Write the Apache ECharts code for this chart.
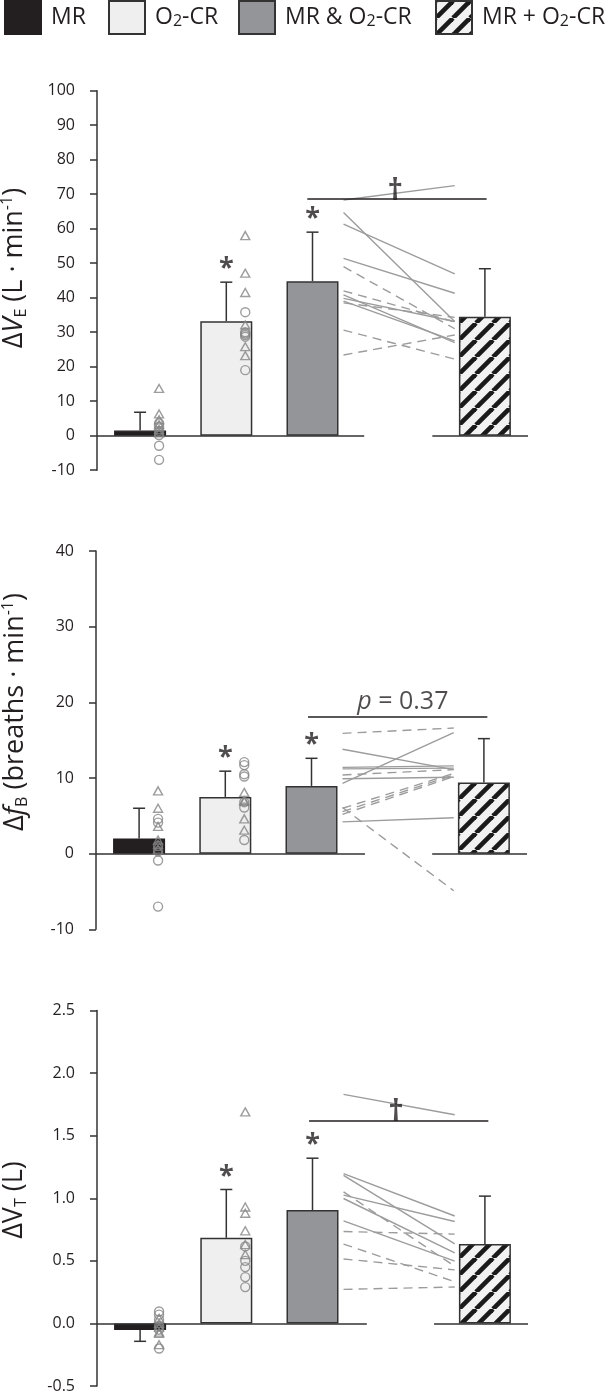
<!DOCTYPE html>
<html><head><meta charset="utf-8">
<script src="https://cdn.jsdelivr.net/npm/echarts@6/dist/echarts.min.js"></script>
<style>html,body{margin:0;padding:0;background:#fff}#c{width:609px;height:1394px}</style>
</head><body><div id="c"></div>
<script>
// ---------- data ----------
const conditions = ['MR', 'O2-CR', 'MR & O2-CR', 'MR + O2-CR'];

// Panel 1: ΔV̇E (L·min-1)
const veMean = [1.5, 33.2, 44.8, 34.5];
const veSd = [5.3, 11.3, 14.2, 13.9];
const veMrTri = [13.7, 6.3, 4.6, 3.2, 1.8, 0.8];
const veMrCirc = [3.6, 2.6, 1.4, 0.2, -2.9, -7.0];
const veO2Tri = [58.0, 47.1, 41.5, 32.1, 25.8, 23.2];
const veO2Circ = [35.8, 30.0, 29.6, 29.2, 28.7, 19.0];
const vePairSolid = [[64.7, 33.1], [61.3, 46.9], [51.4, 41.3], [40.8, 27.0], [39.8, 33.1], [39.0, 27.5], [68.3, 72.5]];
const vePairDashed = [[49.0, 31.0], [42.0, 33.0], [38.5, 34.3], [30.6, 22.2], [23.4, 29.2]];
const veTicks = [-10, 100, 10];

// Panel 2: ΔfB (breaths·min-1)
const fbMean = [2.0, 7.5, 8.95, 9.4];
const fbSd = [4.0, 3.4, 3.65, 5.8];
const fbMrTri = [8.3, 6.0, 3.6, 1.8, 1.2, 0.6];
const fbMrCirc = [4.6, 4.1, 1.0, 0.3, -0.9, -7.0];
const fbO2Tri = [8.1, 7.0, 6.9, 4.6, 3.1];
const fbO2Circ = [12.1, 11.7, 10.5, 10.2, 6.8, 6.1, 1.8];
const fbPairSolid = [[9.3, 16.0], [13.8, 11.1], [11.4, 11.6], [11.2, 11.3], [9.9, 10.1], [4.2, 4.75]];
const fbPairDashed = [[15.9, 16.6], [10.4, 11.1], [6.0, 10.6], [5.55, 10.4], [5.2, 10.2], [6.1, -4.9]];
const fbTicks = [-10, 40, 10];
const fbP = 'p = 0.37';

// Panel 3: ΔVT (L)
const vtMean = [-0.053, 0.684, 0.906, 0.634];
const vtSd = [0.09, 0.386, 0.414, 0.383];
const vtMrTri = [0.04, 0.0, -0.03, -0.07, -0.08, -0.17];
const vtMrCirc = [0.095, 0.07, 0.03, -0.02, -0.05, -0.2];
const vtO2Tri = [1.69, 0.93, 0.88, 0.74, 0.63, 0.55];
const vtO2Circ = [0.615, 0.5, 0.45, 0.37, 0.29];
const vtPairSolid = [[1.83, 1.667], [1.197, 0.858], [1.183, 0.636], [1.025, 0.814], [0.998, 0.563], [0.819, 0.497]];
const vtPairDashed = [[1.051, 0.457], [0.734, 0.713], [0.634, 0.333], [0.515, 0.428], [0.272, 0.291]];
const vtTicks = [-0.5, 2.5, 0.5];

// ---------- styling / layout ----------
const FONT = 'Open Sans';
const INK = '#231f20';
const EDGE = '#333333';
const PT = '#858585';
const LN = '#9c9c9c';

function hatch() {
  const n = 17;
  const c = document.createElement('canvas');
  c.width = n; c.height = n;
  const g = c.getContext('2d');
  g.fillStyle = '#f2f2f2'; g.fillRect(0, 0, n, n);
  g.strokeStyle = '#1a1a1a'; g.lineWidth = 4.6;
  for (let k = -n; k <= n; k += n) {
    g.beginPath(); g.moveTo(k, n); g.lineTo(k + n, 0); g.stroke();
  }
  return c;
}
const barStyles = [
  { color: INK, borderColor: INK, borderWidth: 1.2 },
  { color: '#efefef', borderColor: EDGE, borderWidth: 1.5 },
  { color: '#939598', borderColor: EDGE, borderWidth: 1.5 },
  { color: { image: hatch(), repeat: 'repeat' }, borderColor: EDGE, borderWidth: 1.5 }
];

const barPos = [0.5, 1.5, 2.5, 4.5];
const ptOff = 0.22;
const pairX = [2.86, 4.15];

const panels = [
  { top: 90.7, height: 379.5, left: 97, ticks: veTicks, dec: 0, mean: veMean, sd: veSd,
    mrTri: veMrTri, mrCirc: veMrCirc, o2Tri: veO2Tri, o2Circ: veO2Circ,
    solid: vePairSolid, dashed: vePairDashed, base: [3.10, 3.89],
    bracket: { y: 68.6, x: [2.44, 4.52], label: '†', lx: 3.46 } },
  { top: 551, height: 378.3, left: 96, ticks: fbTicks, dec: 0, mean: fbMean, sd: fbSd,
    mrTri: fbMrTri, mrCirc: fbMrCirc, o2Tri: fbO2Tri, o2Circ: fbO2Circ,
    solid: fbPairSolid, dashed: fbPairDashed, base: [3.12, 3.90],
    bracket: { y: 18.06, x: [2.46, 4.54], label: fbP, lx: 3.56 } },
  { top: 1010.5, height: 378.5, left: 97, ticks: vtTicks, dec: 1, mean: vtMean, sd: vtSd,
    mrTri: vtMrTri, mrCirc: vtMrCirc, o2Tri: vtO2Tri, o2Circ: vtO2Circ,
    solid: vtPairSolid, dashed: vtPairDashed, base: [3.13, 3.91],
    bracket: { y: 1.62, x: [2.46, 4.54], label: '†', lx: 3.47 } }
];

const grid = [], xAxis = [], yAxis = [], series = [];
panels.forEach((p, k) => {
  grid.push({ left: p.left, width: 431, top: p.top, height: p.height });
  xAxis.push({ gridIndex: k, type: 'value', min: 0, max: 5, show: false });
  yAxis.push({
    gridIndex: k, type: 'value', min: p.ticks[0], max: p.ticks[1], interval: p.ticks[2],
    splitLine: { show: false },
    axisLine: { show: true, onZero: false, lineStyle: { color: EDGE, width: 1.5 } },
    axisTick: { show: true, length: 7, lineStyle: { color: EDGE, width: 1.5 } },
    axisLabel: { fontFamily: FONT, fontSize: 16, color: INK, margin: 22,
      formatter: v => v.toFixed(p.dec) }
  });
  const ax = { xAxisIndex: k, yAxisIndex: k };
  // bars
  conditions.forEach((name, i) => {
    series.push(Object.assign({
      type: 'bar', name: name, barWidth: 52, barGap: '-100%',
      itemStyle: barStyles[i], data: [[barPos[i], p.mean[i]]], z: 2, silent: true
    }, ax));
  });
  // error bars
  series.push(Object.assign({
    type: 'custom', z: 3, silent: true,
    data: p.mean.map((m, i) => [barPos[i], m, p.sd[i]]),
    renderItem: function (params, api) {
      const x = api.value(0), m = api.value(1), s = api.value(2);
      const e = m >= 0 ? m + s : m - s;
      const a = api.coord([x, m]), b = api.coord([x, e]);
      const st = { stroke: EDGE, lineWidth: 1.5 };
      return { type: 'group', children: [
        { type: 'line', shape: { x1: a[0], y1: a[1], x2: b[0], y2: b[1] }, style: st },
        { type: 'line', shape: { x1: b[0] - 6, y1: b[1], x2: b[0] + 6, y2: b[1] }, style: st }
      ] };
    }
  }, ax));
  // baseline segments
  series.push(Object.assign({
    type: 'lines', coordinateSystem: 'cartesian2d', silent: true, z: 4,
    lineStyle: { color: EDGE, width: 1.5, opacity: 1 },
    data: [{ coords: [[0, 0], [p.base[0], 0]] }, { coords: [[p.base[1], 0], [5, 0]] }]
  }, ax));
  // individual points
  const pts = [[p.mrTri, 0, 'triangle'], [p.mrCirc, 0, 'circle'], [p.o2Tri, 1, 'triangle'], [p.o2Circ, 1, 'circle']];
  pts.forEach(([arr, ci, sym]) => {
    series.push(Object.assign({
      type: 'scatter', symbol: sym, symbolSize: sym === 'circle' ? 9 : [9, 8], z: 6, silent: true,
      itemStyle: { color: 'rgba(0,0,0,0)', borderColor: PT, borderWidth: 1.4 },
      data: arr.map(v => [barPos[ci] + ptOff, v])
    }, ax));
  });
  // paired lines
  series.push(Object.assign({
    type: 'lines', coordinateSystem: 'cartesian2d', silent: true, z: 5,
    lineStyle: { color: LN, width: 1.4, opacity: 1 },
    data: p.solid.map(d => ({ coords: [[pairX[0], d[0]], [pairX[1], d[1]]] }))
  }, ax));
  series.push(Object.assign({
    type: 'lines', coordinateSystem: 'cartesian2d', silent: true, z: 5,
    lineStyle: { color: LN, width: 1.4, opacity: 1, type: [9, 6] },
    data: p.dashed.map(d => ({ coords: [[pairX[0], d[0]], [pairX[1], d[1]]] }))
  }, ax));
  // bracket
  series.push(Object.assign({
    type: 'lines', coordinateSystem: 'cartesian2d', silent: true, z: 7,
    lineStyle: { color: INK, width: 1.6, opacity: 1 },
    data: [{ coords: [[p.bracket.x[0], p.bracket.y], [p.bracket.x[1], p.bracket.y]] }]
  }, ax));
  // bracket label
  const isP = p.bracket.label !== '†';
  series.push(Object.assign({
    type: 'scatter', symbolSize: 0.1, silent: true, z: 8,
    data: [[p.bracket.lx, p.bracket.y]],
    label: { show: true, position: 'top', distance: isP ? 3 : -7,
      formatter: isP ? p.bracket.label.replace(/^p/, '{i|p}') : '†',
      fontFamily: FONT, fontSize: isP ? 25 : 30, color: INK, fontWeight: isP ? 'normal' : 'bold',
      rich: { i: { fontFamily: FONT, fontSize: 25, fontStyle: 'italic', color: INK } } }
  }, ax));
  // asterisks
  series.push(Object.assign({
    type: 'scatter', symbolSize: 0.1, silent: true, z: 8,
    data: [1, 2].map(i => [barPos[i], p.mean[i] + p.sd[i]]),
    label: { show: true, position: 'top', distance: 0, formatter: '*',
      fontFamily: FONT, fontSize: 27, fontWeight: 'bold', color: INK }
  }, ax));
});

// legends
const legLeft = [4, 108, 238, 435];
const legend = conditions.map((name, i) => ({
  data: [name], left: legLeft[i], top: 0, padding: 0, itemWidth: 36, itemHeight: 33, icon: 'rect',
  selectedMode: false,
  formatter: n => n.replace('O2', 'O{s|2}'),
  textStyle: { fontFamily: FONT, fontSize: 23, color: INK, padding: [0, 0, 0, 5],
    rich: { s: { fontFamily: FONT, fontSize: 16, color: INK, padding: [8, 0, 0, 0] } } }
}));

// y-axis titles
const rich = {
  n: { fontFamily: FONT, fontSize: 27, color: INK },
  i: { fontFamily: FONT, fontSize: 27, color: INK, fontStyle: 'italic' },
  v: { fontFamily: 'Noto Sans', fontSize: 27, color: INK, fontStyle: 'italic' },
  s: { fontFamily: FONT, fontSize: 16, color: INK, padding: [14, 0, 0, 0] },
  p: { fontFamily: FONT, fontSize: 16, color: INK, padding: [0, 0, 14, 0] }
};
const titles = [
  ['{n|Δ}{v|V\u0307}{s|E}{n| (L · min}{p|-1}{n|)}', 14, 268],
  ['{n|Δ}{i|f}{s|B}{n| (breaths · min}{p|-1}{n|)}', 15, 712],
  ['{n|ΔV}{s|T}{n| (L)}', 14, 1200]
];
const graphic = titles.map(t => ({
  type: 'text', x: t[1], y: t[2], rotation: Math.PI / 2,
  style: { text: t[0], rich: rich, fontFamily: FONT, fontSize: 27, fill: INK,
    align: 'center', verticalAlign: 'middle', textAlign: 'center', textVerticalAlign: 'middle' }
}));

const chart = echarts.init(document.getElementById('c'), null, { renderer: 'canvas' });
chart.setOption({ animation: false, backgroundColor: '#ffffff', grid, xAxis, yAxis, series, legend, graphic });
</script></body></html>
